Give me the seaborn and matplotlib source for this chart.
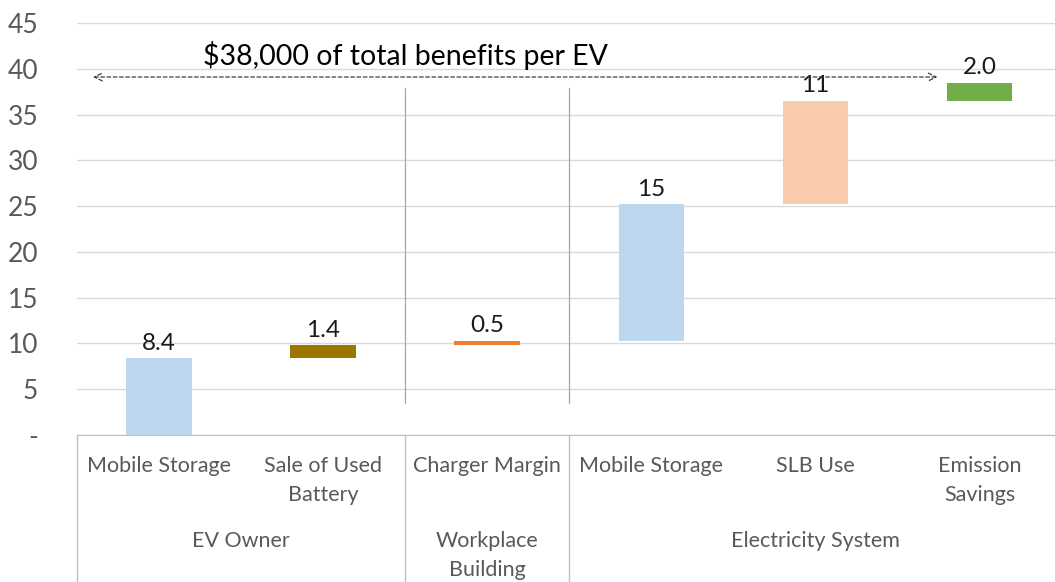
import numpy as np
import pandas as pd
import seaborn as sns
import matplotlib.pyplot as plt

# Données du graphique en cascade
categories = ["Mobile Storage", "Sale of Used\nBattery", "Charger Margin",
              "Mobile Storage", "SLB Use", "Emission\nSavings"]
groupes = ["EV Owner", "Workplace\nBuilding", "Electricity System"]
groupe_centres = [0.5, 2.0, 4.0]
valeurs = [8.4, 1.4, 0.5, 15, 11, 2.0]
bases = [0, 8.4, 9.8, 10.3, 25.2, 36.5]
hauteurs = [8.4, 1.4, 0.5, 14.9, 11.3, 2.0]
etiquettes = ["8.4", "1.4", "0.5", "15", "11", "2.0"]
couleurs = ["#BDD7EE", "#9C7700", "#ED7D31", "#BDD7EE", "#F8CBAD", "#70AD47"]
yticks = [0, 5, 10, 15, 20, 25, 30, 35, 40, 45]
ytick_labels = ["-", "5", "10", "15", "20", "25", "30", "35", "40", "45"]

sns.set_style("white")
plt.rcParams['font.family'] = ['Lato', 'DejaVu Sans']

df = pd.DataFrame({"pos": list(range(len(categories))), "h": hauteurs})

fig = plt.figure(figsize=(10.55, 5.82), dpi=100)
ax = fig.add_axes([77 / 1055, 1 - 435 / 582, 1 - 77 / 1055, 412 / 582])

sns.barplot(data=df, x="pos", y="h", bottom=bases, width=0.4, color="#BDD7EE",
            errorbar=None, ax=ax, zorder=3)
for p, c in zip(ax.patches, couleurs):
    p.set_facecolor(c)
    p.set_edgecolor("none")

ax.set_xlim(-0.5, 5.46)
ax.set_ylim(0, 45)
ax.set_yticks(yticks)
ax.set_yticklabels(ytick_labels, fontsize=19, color="#595959")
ax.tick_params(axis="y", length=0, pad=28)
ax.set_xticks([])
ax.set_xlabel("")
ax.set_ylabel("")
ax.grid(axis="y", color="#D9D9D9", linewidth=1, zorder=0)
for s in ["left", "right", "top"]:
    ax.spines[s].set_visible(False)
ax.spines["bottom"].set_color("#BFBFBF")

# étiquettes de valeurs
for i, (b, h, t) in enumerate(zip(bases, hauteurs, etiquettes)):
    ax.text(i, b + h + 0.5, t, ha="center", va="bottom", fontsize=17.5, color="#1a1a1a")

# séparateurs dans la zone du graphique
for xs in [1.5, 2.5]:
    ax.plot([xs, xs], [3.5, 37.9], color="#A6A6A6", linewidth=0.9, zorder=2)

# flèche du total
ax.annotate("", xy=(4.744, 39.1), xytext=(-0.402, 39.1),
            arrowprops=dict(arrowstyle="<->", linestyle=(0, (3, 2)), color="#404040",
                            linewidth=0.9, shrinkA=0, shrinkB=0, mutation_scale=14))
ax.text(1.5, 41.4, "$38,000 of total benefits per EV", ha="center", va="center",
        fontsize=20.5, color="#000000")

# étiquettes d'axe à deux niveaux
trans = ax.get_xaxis_transform()
for i, c in enumerate(categories):
    ax.text(i, -21 / 412, c, transform=trans, ha="center", va="top", fontsize=15.5,
            color="#595959", linespacing=1.58, clip_on=False)
for xc, g in zip(groupe_centres, groupes):
    ax.text(xc, -96 / 412, g, transform=trans, ha="center", va="top", fontsize=15.5,
            color="#595959", linespacing=1.58, clip_on=False)
for xs in [-0.5, 1.5, 2.5]:
    ax.plot([xs, xs], [0, -147 / 412], transform=trans, color="#BFBFBF",
            linewidth=1, clip_on=False)

fig.savefig("out.png", dpi=100)
